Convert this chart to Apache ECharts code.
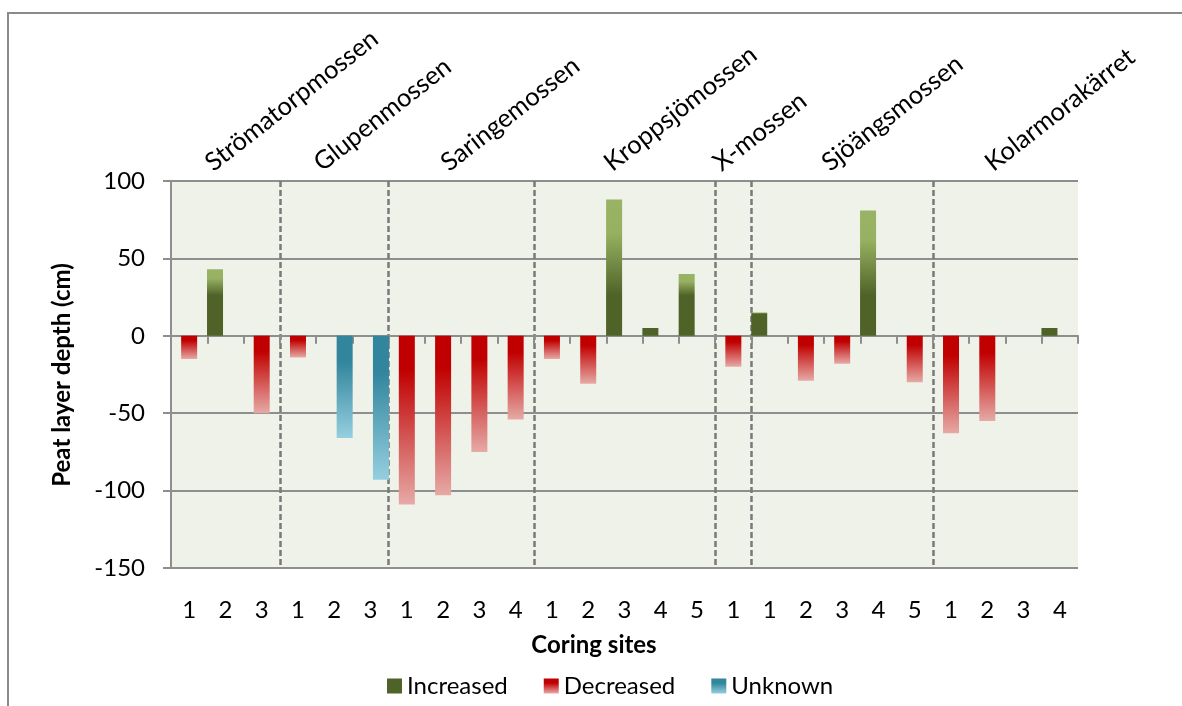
<!DOCTYPE html>
<html>
<head>
<meta charset="utf-8">
<script src="https://cdn.jsdelivr.net/npm/echarts@6/dist/echarts.min.js"></script>
<style>
  html, body { margin: 0; padding: 0; background: #ffffff; }
  #chart { width: 1182px; height: 706px; }
</style>
</head>
<body>
<div id="chart"></div>
<script>
// Peat sites and number of coring sites in each
const groupNames = ['Strömatorpmossen', 'Glupenmossen', 'Saringemossen', 'Kroppsjömossen', 'X-mossen', 'Sjöängsmossen', 'Kolarmorakärret'];
const groupSizes = [3, 3, 4, 5, 1, 5, 4];

// Coring site numbers along the x axis
const siteLabels = ['1', '2', '3', '1', '2', '3', '1', '2', '3', '4', '1', '2', '3', '4', '5', '1', '1', '2', '3', '4', '5', '1', '2', '3', '4'];

// Change in peat layer depth (cm) per coring site
const increased = [null, 43, null, null, null, null, null, null, null, null, null, null, 88, 5, 40, null, 15, null, null, 81, null, null, null, null, 5];
const decreased = [-15, null, -50, -14, null, null, -109, -103, -75, -54, -15, -31, null, null, null, -20, null, -29, -18, null, -30, -63, -55, null, null];
const unknown = [null, null, null, null, -66, -93, null, null, null, null, null, null, null, null, null, null, null, null, null, null, null, null, null, null, null];

const seriesNames = ['Increased', 'Decreased', 'Unknown'];
const yTicks = { min: -150, max: 100, step: 50 };

const FONT = 'Lato, "Open Sans", sans-serif';
const GRID_COLOR = '#8e8e8e';
const G = echarts.graphic;

// unique category keys, shown as the site number only
const categories = siteLabels.map((s, i) => i + ':' + s);

// group boundaries (index of first category of each group after the first)
const boundaries = [];
let acc = 0;
groupSizes.forEach((n, i) => { acc += n; if (i < groupSizes.length - 1) boundaries.push(acc); });

function greenFill(v) {
  const d = Math.min(1, Math.max(0.05, (v - 26) / v));
  return new G.LinearGradient(0, 0, 0, 1, [
    { offset: 0, color: '#98b363' },
    { offset: d * 0.35, color: '#96b161' },
    { offset: d, color: '#4f6228' },
    { offset: 1, color: '#4f6228' }
  ]);
}
const redFill = new G.LinearGradient(0, 0, 0, 1, [
  { offset: 0, color: '#c00000' },
  { offset: 0.2, color: '#c00000' },
  { offset: 1, color: '#e6aaa6' }
]);
const blueFill = new G.LinearGradient(0, 0, 0, 1, [
  { offset: 0, color: '#31859c' },
  { offset: 0.25, color: '#31859c' },
  { offset: 1, color: '#95cfe0' }
]);

const chart = echarts.init(document.getElementById('chart'), null, { renderer: 'canvas' });

const barCommon = {
  type: 'bar',
  barWidth: 16,
  barGap: '-35%',
  xAxisIndex: 0,
  yAxisIndex: 0
};

chart.setOption({
  animation: false,
  backgroundColor: '#ffffff',
  textStyle: { fontFamily: FONT },
  grid: { left: 171, right: 104, top: 181, bottom: 138, show: true, backgroundColor: '#eff2e9', borderWidth: 0 },
  legend: {
    left: 382,
    top: 669,
    itemWidth: 15,
    itemHeight: 15,
    itemGap: 36,
    icon: 'rect',
    textStyle: { fontSize: 24, color: '#000', fontFamily: FONT },
    data: [
      { name: seriesNames[0], itemStyle: { color: '#4f6228' } },
      { name: seriesNames[1], itemStyle: { color: new G.LinearGradient(0, 0, 0, 1, [{ offset: 0, color: '#c00000' }, { offset: 0.3, color: '#c00000' }, { offset: 1, color: '#eaa9a9' }]) } },
      { name: seriesNames[2], itemStyle: { color: new G.LinearGradient(0, 0, 0, 1, [{ offset: 0, color: '#31859c' }, { offset: 0.3, color: '#31859c' }, { offset: 1, color: '#95cfe0' }]) } }
    ]
  },
  xAxis: [
    {
      // axis line with ticks along zero
      type: 'category',
      data: categories,
      position: 'bottom',
      boundaryGap: true,
      axisLine: { show: true, onZero: true, lineStyle: { color: GRID_COLOR, width: 2 } },
      axisTick: { show: true, length: 8, inside: false, lineStyle: { color: GRID_COLOR, width: 2 } },
      axisLabel: { show: false },
      splitLine: { show: false }
    },
    {
      // site numbers along the bottom, dashed separators between peat sites
      type: 'category',
      data: categories,
      position: 'bottom',
      boundaryGap: true,
      axisLine: { show: false, onZero: false },
      axisTick: { show: false },
      axisLabel: {
        show: true,
        interval: 0,
        margin: 30,
        fontSize: 24,
        color: '#000',
        fontFamily: FONT,
        formatter: v => v.split(':')[1]
      },
      splitLine: {
        show: true,
        showMaxLine: false,
        interval: idx => boundaries.indexOf(idx) !== -1,
        lineStyle: { color: '#7a7a7a', width: 2.5, type: [6, 3] }
      }
    }
  ],
  yAxis: {
    type: 'value',
    min: yTicks.min,
    max: yTicks.max,
    interval: yTicks.step,
    axisLine: { show: true, lineStyle: { color: GRID_COLOR, width: 2 } },
    axisTick: { show: true, length: 8, lineStyle: { color: GRID_COLOR, width: 2 } },
    axisLabel: { margin: 26, fontSize: 24, color: '#000', fontFamily: FONT },
    splitLine: { show: true, lineStyle: { color: GRID_COLOR, width: 2 } }
  },
  series: [
    Object.assign({}, barCommon, {
      name: seriesNames[0],
      data: increased,
      itemStyle: { color: p => greenFill(p.value) }
    }),
    Object.assign({}, barCommon, {
      name: seriesNames[1],
      data: decreased,
      itemStyle: { color: redFill }
    }),
    Object.assign({}, barCommon, {
      name: seriesNames[2],
      data: unknown,
      itemStyle: { color: blueFill }
    })
  ]
});

// Frame, axis titles and peat site names rotated above each group of coring sites
const gridTop = 181;
const graphics = [
  {
    type: 'rect',
    silent: true,
    shape: { x: 8, y: 13, width: 1200, height: 760 },
    style: { fill: 'none', stroke: '#8a8a8a', lineWidth: 2 }
  },
  {
    type: 'text',
    x: 62, y: 375,
    rotation: Math.PI / 2,
    style: {
      text: 'Peat layer depth (cm)',
      font: 'bold 24px ' + FONT,
      fill: '#000',
      textAlign: 'center', align: 'center',
      textVerticalAlign: 'middle', verticalAlign: 'middle'
    }
  },
  {
    type: 'text',
    x: 594, y: 645,
    style: {
      text: 'Coring sites',
      font: 'bold 24px ' + FONT,
      fill: '#000',
      textAlign: 'center', align: 'center',
      textVerticalAlign: 'middle', verticalAlign: 'middle'
    }
  }
];

let start = 0;
groupNames.forEach((name, i) => {
  const first = start;
  const last = start + groupSizes[i] - 1;
  start += groupSizes[i];
  const cx = (chart.convertToPixel({ xAxisIndex: 0 }, categories[first]) + chart.convertToPixel({ xAxisIndex: 0 }, categories[last])) / 2;
  graphics.push({
    type: 'text',
    x: cx - 9,
    y: gridTop - 5,
    rotation: 38 * Math.PI / 180,
    style: {
      text: name,
      font: '25.5px ' + FONT,
      fill: '#000',
      textAlign: 'left', align: 'left',
      textVerticalAlign: 'bottom', verticalAlign: 'bottom'
    }
  });
});

chart.setOption({ graphic: graphics });
</script>
</body>
</html>
